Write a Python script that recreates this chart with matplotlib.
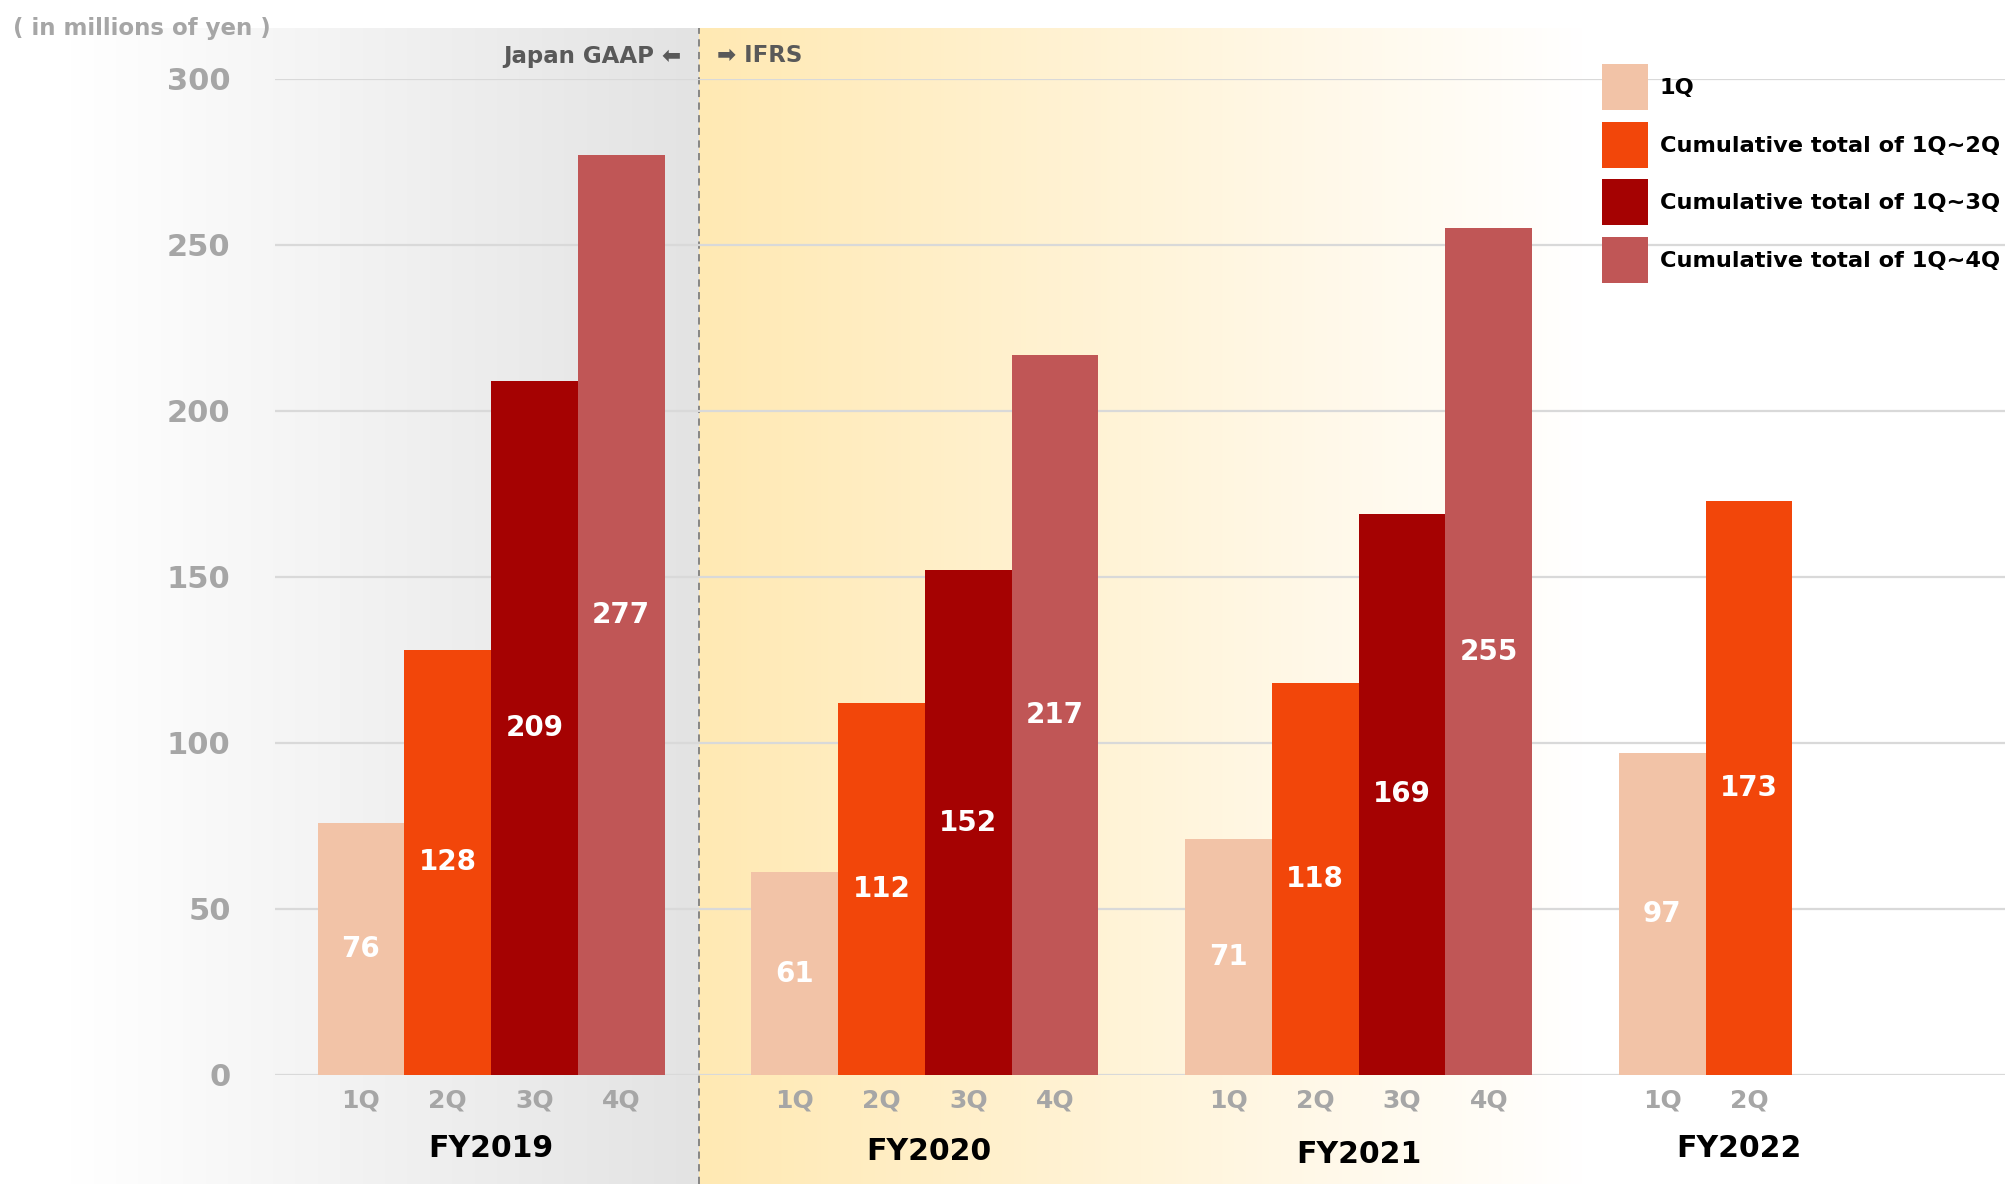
"""Cumulative quarterly figures, FY2019-FY2022 (in millions of yen)."""
import matplotlib
matplotlib.use("Agg")
import matplotlib.pyplot as plt
import matplotlib.colors as mcolors
from matplotlib.patches import Rectangle
import numpy as np

fiscal_years = ["FY2019", "FY2020", "FY2021", "FY2022"]
quarters = ["1Q", "2Q", "3Q", "4Q"]
q1 = [76, 61, 71, 97]
q1_q2 = [128, 112, 118, 173]
q1_q3 = [209, 152, 169, None]
q1_q4 = [277, 217, 255, None]
series = [q1, q1_q2, q1_q3, q1_q4]
series_names = ["1Q", "Cumulative total of 1Q~2Q",
                "Cumulative total of 1Q~3Q", "Cumulative total of 1Q~4Q"]
colors = ["#f2c3a7", "#f2460a", "#a50202", "#c05656"]
y_ticks = [0, 50, 100, 150, 200, 250, 300]

GROUP = 5          # 4 bars + 1 gap per fiscal year
XLIM = (-0.99, 18.95)
DIVIDER = 3.9      # Japan GAAP / IFRS switch
GREY = "#a6a6a6"
W, H = 2005, 1184

plt.rcParams["font.family"] = ["DejaVu Sans"]

fig = plt.figure(figsize=(W / 100, H / 100), dpi=100)
ax_pos = [0.1372, 0.0921, 0.8628, 0.8412]
ax = fig.add_axes(ax_pos)
ax.set_facecolor("none")

# background gradients (grey for Japan GAAP, yellow for IFRS)
bg = fig.add_axes([0, 0, 1, 1], zorder=-5)
bg.set_xlim(0, 1); bg.set_ylim(0, 1); bg.axis("off")
xd = ax_pos[0] + (DIVIDER - XLIM[0]) / (XLIM[1] - XLIM[0]) * ax_pos[2]
top = 1 - 28 / H


def grad(c0, c1, n=256):
    a = np.array(mcolors.to_rgb(c0)); b = np.array(mcolors.to_rgb(c1))
    t = np.linspace(0, 1, n)[:, None]
    return (a + (b - a) * t)[None, :, :]


bg.imshow(grad("#ffffff", "#e3e3e3"), extent=[0.035, xd, 0, top],
          aspect="auto", interpolation="bilinear")
bg.imshow(grad("#ffe9b3", "#ffffff"), extent=[xd, 0.79, 0, top],
          aspect="auto", interpolation="bilinear")
bg.plot([xd, xd], [0, top], color="#7f7f7f", lw=1.3, ls=(0, (4, 3)))

# bars
for g, fy in enumerate(fiscal_years):
    for q in range(4):
        v = series[q][g]
        if v is None:
            continue
        x = g * GROUP + q
        ax.bar(x, v, width=1.0, color=colors[q], edgecolor="none", zorder=3)
        ax.text(x, v / 2, str(v), color="white", fontsize=20,
                fontweight="bold", ha="center", va="center", zorder=4)

# quarter tick labels
ticks, tlabels = [], []
for g in range(len(fiscal_years)):
    for q in range(4):
        if series[q][g] is not None:
            ticks.append(g * GROUP + q)
            tlabels.append(quarters[q])
ax.set_xticks(ticks)
ax.set_xticklabels(tlabels, color=GREY, fontsize=18, fontweight="bold")
ax.tick_params(axis="x", length=0, pad=10)

ax.set_yticks(y_ticks)
ax.set_yticklabels([str(t) for t in y_ticks], color=GREY, fontsize=22,
                   fontweight="bold")
ax.tick_params(axis="y", length=0, pad=32)
ax.set_xlim(*XLIM)
ax.set_ylim(0, 300)
ax.yaxis.grid(True, color="#d9d9d9", lw=1.6, zorder=0)
ax.set_axisbelow(True)
for s in ax.spines.values():
    s.set_visible(False)

# fiscal year labels
fy_nudge = [(0, 0), (0.04, -0.003), (0, -0.006), (0.38, 0)]
for g, fy in enumerate(fiscal_years):
    n = sum(series[q][g] is not None for q in range(4))
    cx = g * GROUP + (n - 1) / 2 + fy_nudge[g][0]
    ax.text(cx, -0.074 + fy_nudge[g][1], fy, fontsize=21.5, fontweight="bold",
            ha="center", va="center", color="black",
            transform=ax.get_xaxis_transform())

# annotations
fig.text(13 / W, 1 - 28 / H, "( in millions of yen )", color=GREY,
         fontsize=16.5, fontweight="bold", va="center", ha="left")
fig.text(xd - 0.009, 1 - 56 / H, "Japan GAAP \u2b05", color="#595959",
         fontsize=16.5, fontweight="bold", va="center", ha="right")
fig.text(xd + 0.009, 1 - 56 / H, "\u27a1 IFRS", color="#595959",
         fontsize=16.5, fontweight="bold", va="center", ha="left")

# legend (square keys)
for i, (name, c) in enumerate(zip(series_names, colors)):
    y_top = 64 + i * 57.7
    fig.add_artist(Rectangle((1602 / W, 1 - (y_top + 46) / H), 46 / W, 46 / H,
                             facecolor=c, edgecolor="none",
                             transform=fig.transFigure))
    fig.text(1660 / W, 1 - (y_top + 24) / H, name, fontsize=16.2,
             fontweight="bold", color="black", va="center", ha="left")

fig.savefig("out.png", dpi=100)
